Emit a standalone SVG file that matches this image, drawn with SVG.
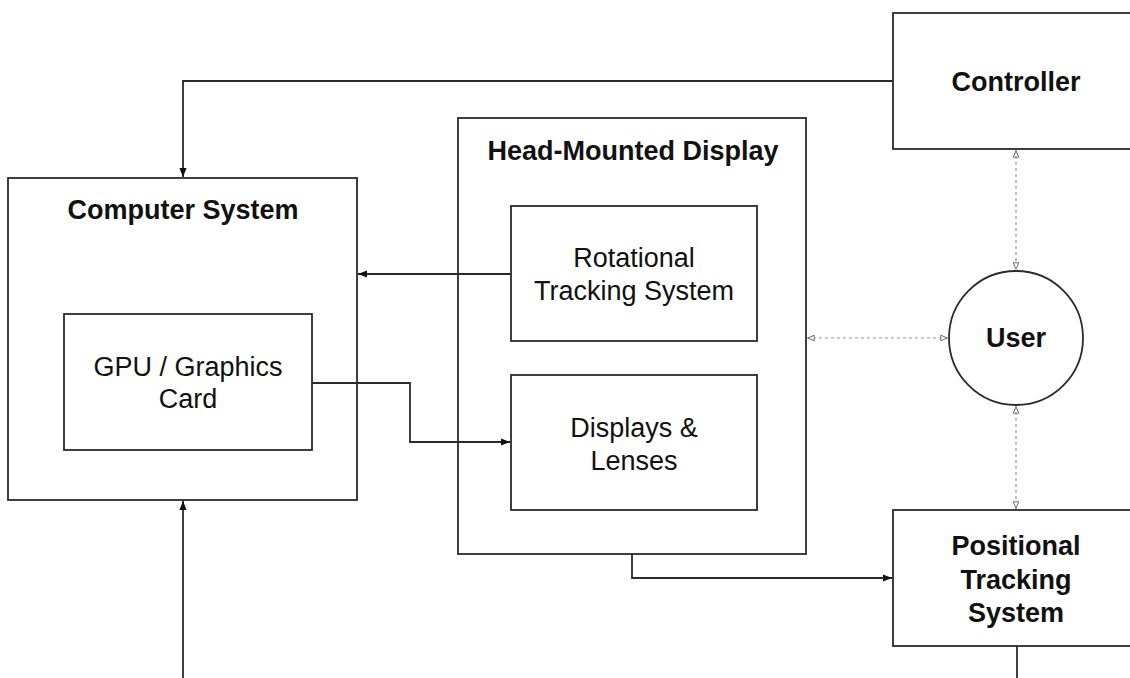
<svg xmlns="http://www.w3.org/2000/svg" width="1130" height="678" viewBox="0 0 1130 678">
  <style>
    .box { fill: #ffffff; stroke: #2b2b2b; stroke-width: 1.8; }
    .frame { fill: none; stroke: #2b2b2b; stroke-width: 1.8; }
    .wire { fill: none; stroke: #2b2b2b; stroke-width: 1.8; }
    .dot { fill: none; stroke: #9a9a9a; stroke-width: 1.2; stroke-dasharray: 3 3; }
    .t { font-family: "Liberation Sans", Arial, sans-serif; font-size: 27px; fill: #111; text-anchor: middle; }
    .b { font-weight: bold; }
  </style>
  <defs>
    <marker id="solid" viewBox="0 0 10 10" refX="10" refY="5" markerWidth="9" markerHeight="9" markerUnits="userSpaceOnUse" orient="auto">
      <path d="M0,1 L10,5 L0,9 Z" fill="#111"/>
    </marker>
    <marker id="hollow" viewBox="0 0 10 10" refX="10" refY="5" markerWidth="8" markerHeight="8" markerUnits="userSpaceOnUse" orient="auto-start-reverse">
      <path d="M1,1.5 L9,5 L1,8.5 Z" fill="#fff" stroke="#666" stroke-width="1.2"/>
    </marker>
  </defs>

  <rect width="1130" height="678" fill="#ffffff"/>

  <g id="controller">
    <rect class="box" x="893" y="13" width="250" height="136"/>
    <text class="t b" x="1016" y="91">Controller</text>
  </g>

  <g id="computer-system">
    <rect class="frame" x="8" y="178" width="349" height="322"/>
    <text class="t b" x="183" y="219">Computer System</text>
  </g>

  <g id="gpu">
    <rect class="box" x="64" y="314" width="248" height="136"/>
    <text class="t" x="188" y="376">GPU / Graphics</text>
    <text class="t" x="188" y="408">Card</text>
  </g>

  <g id="head-mounted-display">
    <rect class="frame" x="458" y="118" width="348" height="436"/>
    <text class="t b" x="633" y="160">Head-Mounted Display</text>
  </g>

  <g id="rotational-tracking">
    <rect class="box" x="511" y="206" width="246" height="135"/>
    <text class="t" x="634" y="267">Rotational</text>
    <text class="t" x="634" y="300">Tracking System</text>
  </g>

  <g id="displays-lenses">
    <rect class="box" x="511" y="375" width="246" height="135"/>
    <text class="t" x="634" y="437">Displays &amp;</text>
    <text class="t" x="634" y="470">Lenses</text>
  </g>

  <g id="user">
    <circle class="box" cx="1016" cy="338" r="67"/>
    <text class="t b" x="1016" y="347">User</text>
  </g>

  <g id="positional-tracking">
    <rect class="box" x="893" y="510" width="250" height="136"/>
    <text class="t b" x="1016" y="555">Positional</text>
    <text class="t b" x="1016" y="589">Tracking</text>
    <text class="t b" x="1016" y="622">System</text>
  </g>

  <g id="connectors">
    <!-- Controller to Computer System -->
    <path class="wire" d="M893,81 H183 V177" marker-end="url(#solid)"/>
    <!-- Rotational Tracking System to Computer System -->
    <path class="wire" d="M511,274 H358" marker-end="url(#solid)"/>
    <!-- GPU to Displays & Lenses -->
    <path class="wire" d="M312,383 H410 V442 H510" marker-end="url(#solid)"/>
    <!-- Head-Mounted Display to Positional Tracking System -->
    <path class="wire" d="M632,554 V578 H892" marker-end="url(#solid)"/>
    <!-- Incoming link from below into Computer System -->
    <path class="wire" d="M183,678 V501" marker-end="url(#solid)"/>
    <!-- Outgoing link from Positional Tracking System -->
    <path class="wire" d="M1017,646 V678"/>
    <!-- User interactions (dotted, both directions) -->
    <path class="dot" d="M1016,150 V270" marker-start="url(#hollow)" marker-end="url(#hollow)"/>
    <path class="dot" d="M807,338 H948" marker-start="url(#hollow)" marker-end="url(#hollow)"/>
    <path class="dot" d="M1016,406 V509" marker-start="url(#hollow)" marker-end="url(#hollow)"/>
  </g>
</svg>
